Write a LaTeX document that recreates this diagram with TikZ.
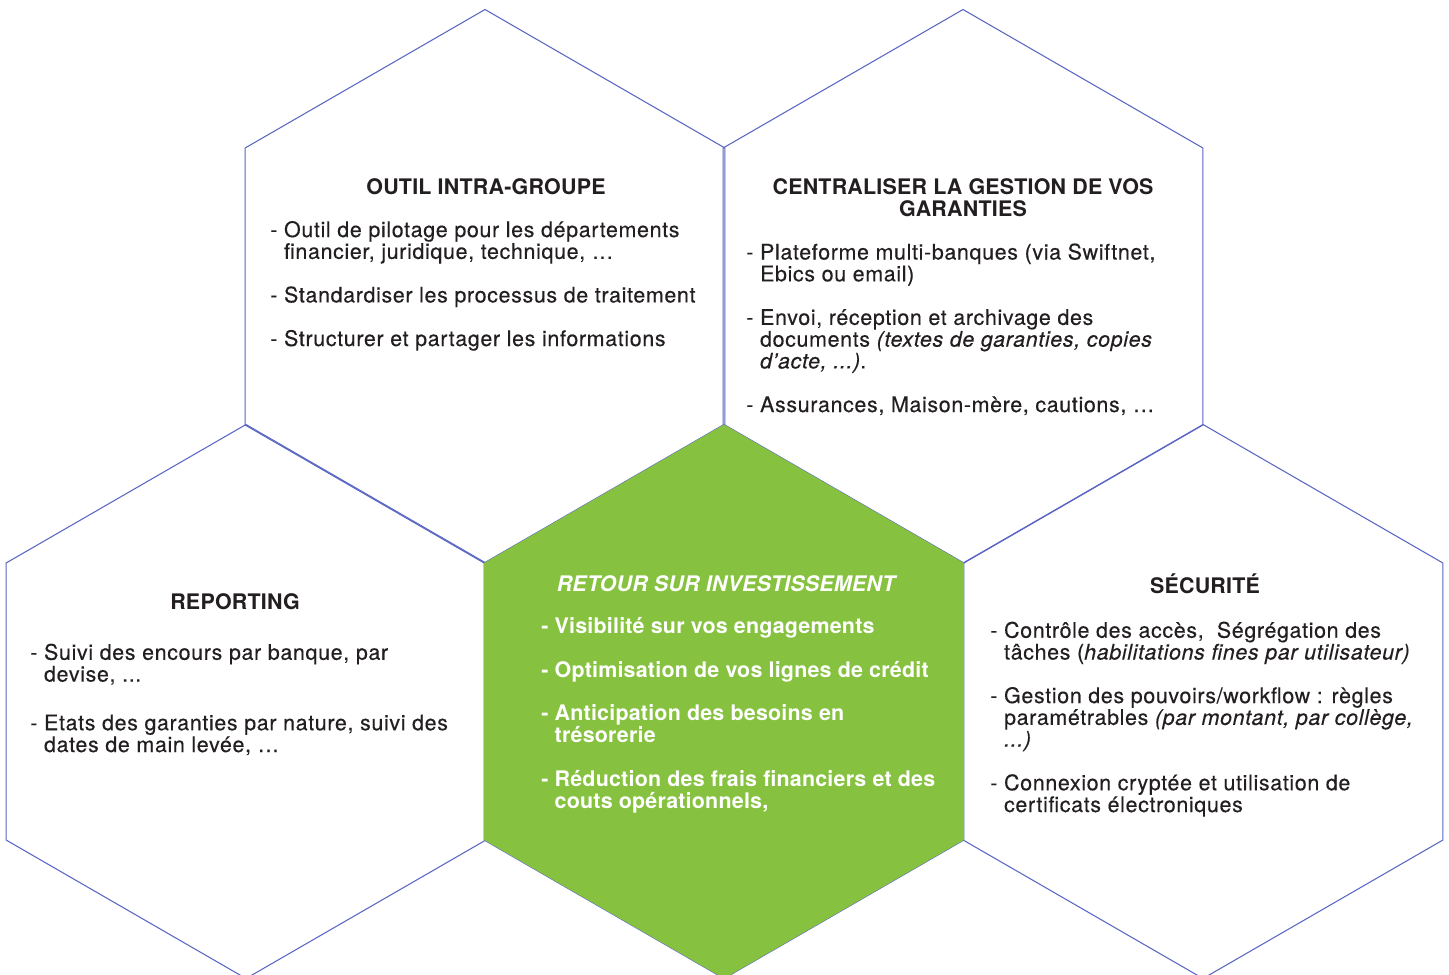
\documentclass[tikz,border=0pt]{standalone}
\usepackage{fontspec}
\newfontfamily\hexfont{TeX Gyre Heros}[LetterSpace=3, FakeBold=0.3]
\newfontfamily\roifont{TeX Gyre Heros}[LetterSpace=1]

\definecolor{hexblue}{HTML}{5A66C4}
\definecolor{leafgreen}{HTML}{86C240}
\definecolor{inkgrey}{HTML}{231F20}

\newcommand{\indt}{\hphantom{- }}

\tikzset{
  hexline/.style={draw=hexblue, line width=0.6pt},
  hextitle/.style={anchor=base, inner sep=0pt, align=center, text=inkgrey,
    font=\roifont\fontsize{12.2}{12.4}\selectfont\bfseries},
  hexbody/.style={anchor=base west, inner sep=0pt, align=left, text=inkgrey,
    font=\hexfont\fontsize{12.2}{12.4}\selectfont},
  roititle/.style={anchor=base, inner sep=0pt, text=white,
    font=\roifont\fontsize{12.2}{12.4}\selectfont\bfseries\itshape},
  roibody/.style={anchor=base west, inner sep=0pt, align=left, text=white,
    font=\roifont\fontsize{12.2}{12.4}\selectfont\bfseries},
}

\begin{document}
\begin{tikzpicture}[x=0.02cm, y=-0.02cm]
  \clip (0,0) rectangle (1449,974);
  \fill[white] (0,0) rectangle (1449,974);

  % honeycomb
  \foreach \cx/\cy in {485/286.5, 963/286.5, 246/701.5, 724/701.5, 1203/701.5}
    \draw[hexline] (\cx,\cy) +(90:277) -- +(30:277) -- +(-30:277)
      -- +(-90:277) -- +(-150:277) -- +(150:277) -- cycle;
  \fill[leafgreen] (724,701.5) +(90:277) -- +(30:277) -- +(-30:277)
    -- +(-90:277) -- +(-150:277) -- +(150:277) -- cycle;

  % outil intra-groupe (anchors sit on the last line)
  \node[hextitle] (t1) at (486,194) {OUTIL INTRA-GROUPE};
  \node[hexbody] (b1) at (270,346) {- Outil de pilotage pour les départements\\
    \indt financier, juridique, technique, \dots\\[12.4pt]
    - Standardiser les processus de traitement\\[12.4pt]
    - Structurer et partager les informations};

  % centraliser
  \node[hextitle] (t2) at (963,216) {CENTRALISER LA GESTION DE VOS\\GARANTIES};
  \node[hexbody] (b2) at (746,412) {- Plateforme multi-banques (via Swiftnet,\\
    \indt Ebics ou email)\\[12.4pt]
    - Envoi, réception et archivage des\\
    \indt documents \textit{(textes de garanties, copies}\\
    \indt \textit{d’acte, ...)}.\\[12.4pt]
    - Assurances, Maison-mère, cautions, \dots};

  % reporting
  \node[hextitle] (t3) at (235,609) {REPORTING};
  \node[hexbody] (b3) at (30,752) {- Suivi des encours par banque, par\\
    \indt devise, ...\\[15.3pt]
    - Etats des garanties par nature, suivi des\\
    \indt dates de main levée, \dots};

  % retour sur investissement
  \node[roititle] (t4) at (726,591) {RETOUR SUR INVESTISSEMENT};
  \node[roibody] (b4) at (541,808) {- Visibilité sur vos engagements\\[12.4pt]
    - Optimisation de vos lignes de crédit\\[12.4pt]
    - Anticipation des besoins en\\
    \indt trésorerie\\[12.4pt]
    - Réduction des frais financiers et des\\
    \indt couts opérationnels,};

  % securite
  \node[hextitle] (t5) at (1205,593) {SÉCURITÉ};
  \node[hexbody] (b5) at (990,812) {- Contrôle des accès,~ Ségrégation des\\
    \indt tâches (\textit{habilitations fines par utilisateur)}\\[12.4pt]
    - Gestion des pouvoirs/workflow : règles\\
    \indt paramétrables \textit{(par montant, par collège,}\\
    \indt \textit{...)}\\[12.4pt]
    - Connexion cryptée et utilisation de\\
    \indt certificats électroniques};
\end{tikzpicture}
\end{document}
